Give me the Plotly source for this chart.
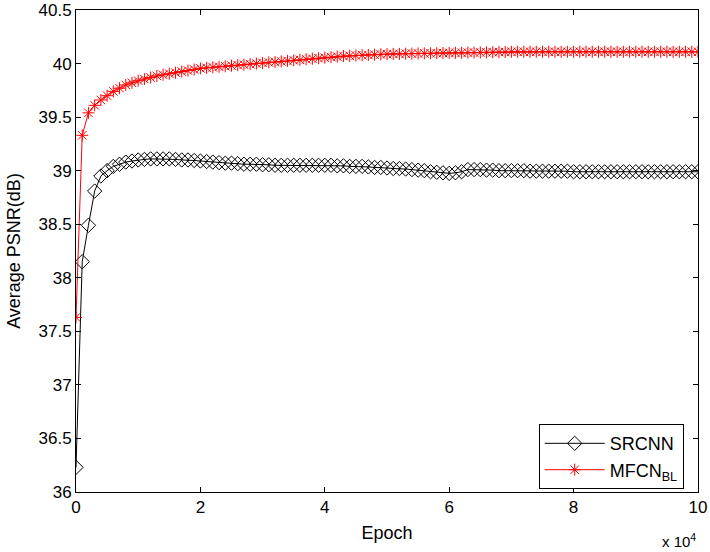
import plotly.graph_objects as go

# Epochs (markers every 1000 epochs); axis shown in units of 10^4
epochs = list(range(0, 100001, 1000))

srcnn = [
    36.23, 38.15, 38.49, 38.81, 38.95, 39.00, 39.04, 39.06, 39.08, 39.09,
    39.10, 39.105, 39.11, 39.11, 39.11, 39.11, 39.105, 39.10, 39.10, 39.095,
    39.09, 39.085, 39.08, 39.075, 39.07, 39.07, 39.065, 39.06, 39.06, 39.06,
    39.055, 39.055, 39.05, 39.05, 39.05, 39.05, 39.05, 39.05, 39.05, 39.05,
    39.05, 39.05, 39.045, 39.045, 39.04, 39.04, 39.04, 39.035, 39.03, 39.03,
    39.025, 39.02, 39.02, 39.015, 39.01, 39.005, 39.00, 38.99, 38.985, 38.98,
    38.975, 38.98, 38.99, 39.01, 39.01, 39.01, 39.005, 39.005, 39.00, 39.00,
    39.00, 39.00, 39.00, 38.995, 38.995, 38.995, 38.995, 38.995, 38.995, 38.995,
    38.99, 38.99, 38.99, 38.99, 38.99, 38.99, 38.99, 38.99, 38.99, 38.99,
    38.99, 38.99, 38.99, 38.99, 38.99, 38.99, 38.99, 38.99, 38.99, 38.99,
    38.99,
]

mfcn_bl = [
    37.63, 39.33, 39.54, 39.61, 39.66, 39.70, 39.74, 39.77, 39.80, 39.82,
    39.84, 39.855, 39.87, 39.885, 39.895, 39.905, 39.915, 39.925, 39.935, 39.945,
    39.955, 39.96, 39.965, 39.97, 39.975, 39.98, 39.985, 39.99, 39.995, 40.00,
    40.005, 40.01, 40.015, 40.02, 40.025, 40.03, 40.035, 40.04, 40.045, 40.05,
    40.055, 40.06, 40.065, 40.07, 40.072, 40.075, 40.078, 40.08, 40.083, 40.086,
    40.088, 40.09, 40.09, 40.092, 40.093, 40.094, 40.095, 40.096, 40.097, 40.098,
    40.10, 40.10, 40.10, 40.102, 40.103, 40.104, 40.105, 40.106, 40.107, 40.108,
    40.11, 40.11, 40.11, 40.11, 40.11, 40.11, 40.11, 40.11, 40.11, 40.11,
    40.11, 40.11, 40.11, 40.11, 40.11, 40.11, 40.11, 40.11, 40.11, 40.11,
    40.11, 40.11, 40.11, 40.11, 40.11, 40.11, 40.11, 40.11, 40.11, 40.11,
    40.11,
]

x_ticks = [0, 2, 4, 6, 8, 10]
y_ticks = [36, 36.5, 37, 37.5, 38, 38.5, 39, 39.5, 40, 40.5]
y_tick_text = ["36", "36.5", "37", "37.5", "38", "38.5", "39", "39.5", "40", "40.5"]

x_scaled = [e / 1e4 for e in epochs]

FONT = "Liberation Sans, Arial, Helvetica, sans-serif"

fig = go.Figure()
fig.add_trace(go.Scatter(
    x=x_scaled, y=srcnn, name="SRCNN", mode="lines+markers",
    line=dict(color="black", width=1),
    marker=dict(symbol="diamond-open", size=11, color="black", line=dict(width=1, color="black")),
))
fig.add_trace(go.Scatter(
    x=x_scaled, y=mfcn_bl, name="MFCN<sub>BL</sub>", mode="lines+markers",
    line=dict(color="#ff0000", width=1),
    marker=dict(symbol="asterisk-open", size=10, color="#ff0000", line=dict(width=1, color="#ff0000")),
))

axis_common = dict(
    showline=True, linecolor="black", linewidth=1, mirror="ticks",
    ticks="inside", ticklen=5, tickcolor="black", tickwidth=1,
    showgrid=False, zeroline=False, automargin=False,
    ticklabeloverflow="allow",
    tickfont=dict(family=FONT, size=17, color="black"),
)

fig.update_xaxes(
    range=[0, 10], tickvals=x_ticks, ticktext=[str(v) for v in x_ticks],
    title=dict(text="Epoch", font=dict(family=FONT, size=18, color="black"), standoff=9),
    **axis_common,
)
fig.update_yaxes(
    range=[36, 40.5], tickvals=y_ticks, ticktext=y_tick_text,
    title=dict(text="Average PSNR(dB)", font=dict(family=FONT, size=18, color="black"), standoff=13),
    **axis_common,
)

fig.add_annotation(
    text="x 10<sup>4</sup>", xref="paper", yref="paper", x=1.0, y=-0.077,
    xanchor="right", yanchor="top", showarrow=False,
    font=dict(family=FONT, size=15, color="black"),
)

fig.update_layout(
    template="none",
    width=710, height=552,
    margin=dict(l=76, r=12, t=10, b=60),
    paper_bgcolor="white", plot_bgcolor="white",
    font=dict(family=FONT, size=17, color="black"),
    legend=dict(
        x=0.977, y=0.006, xanchor="right", yanchor="bottom",
        bordercolor="black", borderwidth=1, bgcolor="white",
        font=dict(family=FONT, size=18, color="black"),
        tracegroupgap=0, itemwidth=60,
    ),
    showlegend=True,
)

# remove the default page margin so the 710x552 figure fills the window exactly
fig.write_html(
    "out.html",
    config={"displayModeBar": False},
    post_script="document.body.style.margin='0';document.body.style.overflow='hidden';",
)
